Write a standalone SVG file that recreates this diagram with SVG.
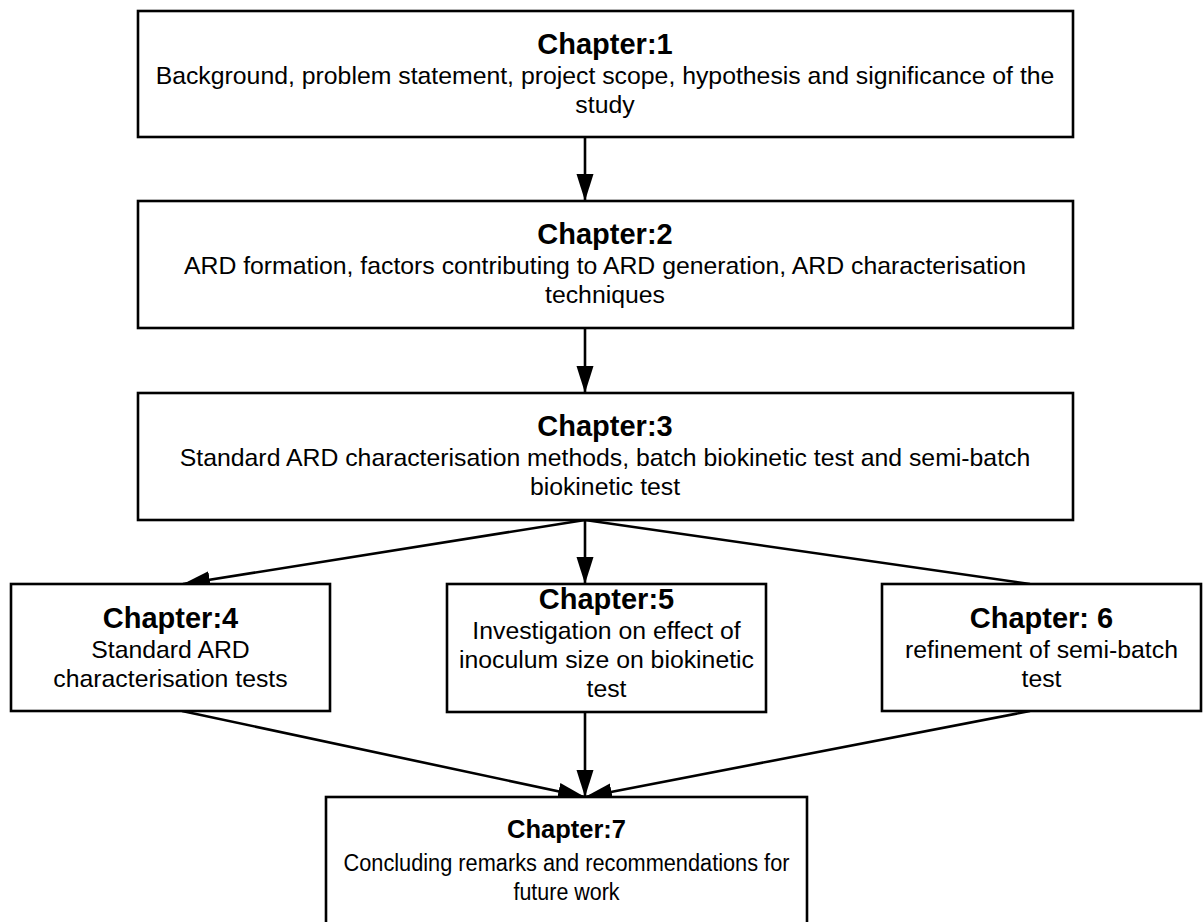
<svg xmlns="http://www.w3.org/2000/svg" width="1203" height="922" viewBox="0 0 1203 922">
<style>
.box{fill:#fff;stroke:#000;stroke-width:2.6}
.t{font-family:"Liberation Sans",Arial,sans-serif;font-size:29px;font-weight:bold;text-anchor:middle;fill:#000}
.b{font-family:"Liberation Sans",Arial,sans-serif;font-size:24.8px;text-anchor:middle;fill:#000}
.t7{font-family:"Liberation Sans",Arial,sans-serif;font-size:25.5px;font-weight:bold;text-anchor:middle;fill:#000}
.b7{font-family:"Liberation Sans",Arial,sans-serif;font-size:23px;text-anchor:middle;fill:#000}
.c{fill:none;stroke:#000;stroke-width:2.6}
</style>
<defs>
<marker id="ah" markerUnits="userSpaceOnUse" markerWidth="28" markerHeight="18" refX="27" refY="8.5" orient="auto">
<path d="M0,0 L27,8.5 L0,17 z" fill="#000"/>
</marker>
</defs>
<rect width="1203" height="922" fill="#fff"/>
<g id="connectors">
<line class="c" x1="585" y1="137" x2="585" y2="201" marker-end="url(#ah)"/>
<line class="c" x1="585" y1="328" x2="585" y2="393" marker-end="url(#ah)"/>
<line class="c" x1="585" y1="520" x2="183" y2="584" marker-end="url(#ah)"/>
<line class="c" x1="585" y1="520" x2="585" y2="584" marker-end="url(#ah)"/>
<line class="c" x1="585" y1="520" x2="1030" y2="584"/>
<line class="c" x1="182" y1="711" x2="585" y2="797" marker-end="url(#ah)"/>
<line class="c" x1="585" y1="712" x2="585" y2="797" marker-end="url(#ah)"/>
<line class="c" x1="1030" y1="711" x2="585" y2="797" marker-end="url(#ah)"/>
</g>
<g id="ch1">
<rect class="box" x="138" y="11" width="935" height="126"/>
<text class="t" x="605" y="54">Chapter:1</text>
<text class="b" x="605" y="84">Background, problem statement, project scope, hypothesis and significance of the</text>
<text class="b" x="605" y="113">study</text>
</g>
<g id="ch2">
<rect class="box" x="138" y="201" width="935" height="127"/>
<text class="t" x="605" y="244">Chapter:2</text>
<text class="b" x="605" y="274">ARD formation, factors contributing to ARD generation, ARD characterisation</text>
<text class="b" x="605" y="303">techniques</text>
</g>
<g id="ch3">
<rect class="box" x="138" y="393" width="935" height="127"/>
<text class="t" x="605" y="436">Chapter:3</text>
<text class="b" x="605" y="466">Standard ARD characterisation methods, batch biokinetic test and semi-batch</text>
<text class="b" x="605" y="495">biokinetic test</text>
</g>
<g id="ch4">
<rect class="box" x="11" y="584" width="319" height="127"/>
<text class="t" x="170.5" y="628">Chapter:4</text>
<text class="b" x="170.5" y="658">Standard ARD</text>
<text class="b" x="170.5" y="687">characterisation tests</text>
</g>
<g id="ch5">
<rect class="box" x="447" y="584" width="319" height="128"/>
<text class="t" x="606.5" y="609">Chapter:5</text>
<text class="b" x="606.5" y="639">Investigation on effect of</text>
<text class="b" x="606.5" y="668">inoculum size on biokinetic</text>
<text class="b" x="606.5" y="697">test</text>
</g>
<g id="ch6">
<rect class="box" x="882" y="584" width="319" height="127"/>
<text class="t" x="1041.5" y="628">Chapter: 6</text>
<text class="b" x="1041.5" y="658">refinement of semi-batch</text>
<text class="b" x="1041.5" y="687">test</text>
</g>
<g id="ch7">
<rect class="box" x="326" y="797" width="481" height="140"/>
<text class="t7" x="566.5" y="838">Chapter:7</text>
<text class="b7" x="566.5" y="871" textLength="446" lengthAdjust="spacingAndGlyphs">Concluding remarks and recommendations for</text>
<text class="b7" x="566.5" y="900" textLength="106" lengthAdjust="spacingAndGlyphs">future work</text>
</g>
</svg>
